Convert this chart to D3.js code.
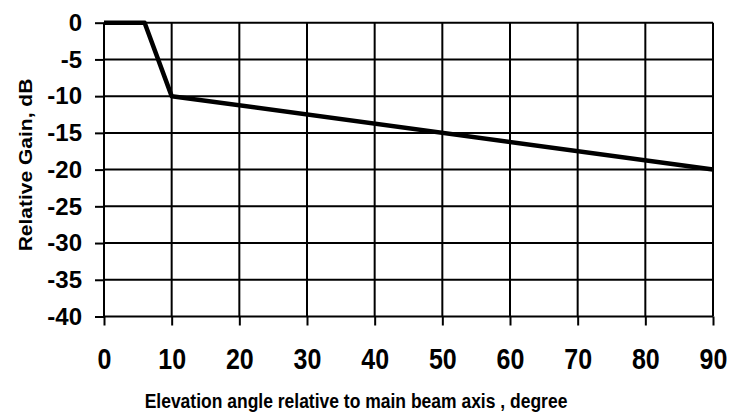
<!DOCTYPE html>
<html>
<head>
<meta charset="utf-8">
<script src="https://cdn.jsdelivr.net/npm/d3@7"></script>
<style>
  body { margin: 0; background: #fff; }
  text { font-family: "Liberation Sans", Arial, sans-serif; font-weight: bold; fill: #000; }
</style>
</head>
<body>
<script>
const width = 731;
const height = 416;

// pattern vertices (angle in degrees, gain in dB)
const angles = [0, 6, 10, 90];
const gains = [0, 0, -10, -20];
const xTicks = [0, 10, 20, 30, 40, 50, 60, 70, 80, 90];
const yTicks = [0, -5, -10, -15, -20, -25, -30, -35, -40];

const margin = { top: 22.7, right: 18, bottom: 99.5, left: 104 };
const plotWidth = width - margin.left - margin.right;
const plotHeight = height - margin.top - margin.bottom;

let svg = d3.select('body')
    .append('svg')
    .attr('width', width)
    .attr('height', height);

let plot = svg.append('g')
    .attr('transform', `translate(${margin.left}, ${margin.top})`);

let x = d3.scaleLinear().domain([0, 90]).range([0, plotWidth]);
let y = d3.scaleLinear().domain([-40, 0]).range([plotHeight, 0]);

// grid
plot.append('g')
    .selectAll('line')
    .data(xTicks)
    .join('line')
    .attr('x1', d => x(d)).attr('x2', d => x(d))
    .attr('y1', 0).attr('y2', plotHeight)
    .attr('stroke', '#000').attr('stroke-width', 2);

plot.append('g')
    .selectAll('line')
    .data(yTicks)
    .join('line')
    .attr('x1', 0).attr('x2', plotWidth)
    .attr('y1', d => y(d)).attr('y2', d => y(d))
    .attr('stroke', '#000').attr('stroke-width', 2);

// axes
let fmt = d => String(d);
let xAxis = d3.axisBottom(x).tickValues(xTicks).tickSize(9).tickFormat(fmt);
let yAxis = d3.axisLeft(y).tickValues(yTicks).tickSize(9).tickPadding(13).tickFormat(fmt);

let xg = plot.append('g')
    .attr('transform', `translate(0, ${plotHeight})`)
    .call(xAxis);
let yg = plot.append('g').call(yAxis);

[xg, yg].forEach(g => {
    g.select('.domain').remove();
    g.selectAll('.tick line').attr('stroke', '#000').attr('stroke-width', 2);
    g.selectAll('.tick text')
        .style('font-family', '"Liberation Sans", Arial, sans-serif')
        .style('font-weight', 'bold')
        .attr('fill', '#000');
});
yg.selectAll('.tick text').style('font-size', '24px');
xg.selectAll('.tick text')
    .style('font-size', '25px')
    .attr('y', 0)
    .attr('dy', 0)
    .attr('transform', 'translate(0, 52.5) scale(1, 1.15)');

// data line
let line = d3.line()
    .x((d, i) => x(angles[i]))
    .y(d => y(d));

plot.append('path')
    .datum(gains)
    .attr('d', line)
    .attr('fill', 'none')
    .attr('stroke', '#000')
    .attr('stroke-width', 4.5)
    .attr('stroke-linejoin', 'round');

// titles
svg.append('text')
    .attr('transform', 'translate(356, 408) scale(1, 1.2)')
    .attr('text-anchor', 'middle')
    .style('font-size', '17.5px')
    .text('Elevation angle relative to main beam axis , degree');

svg.append('text')
    .attr('transform', 'translate(32, 165) rotate(-90) scale(1.2, 1)')
    .attr('text-anchor', 'middle')
    .style('font-size', '17.5px')
    .text('Relative Gain, dB');
</script>
</body>
</html>
